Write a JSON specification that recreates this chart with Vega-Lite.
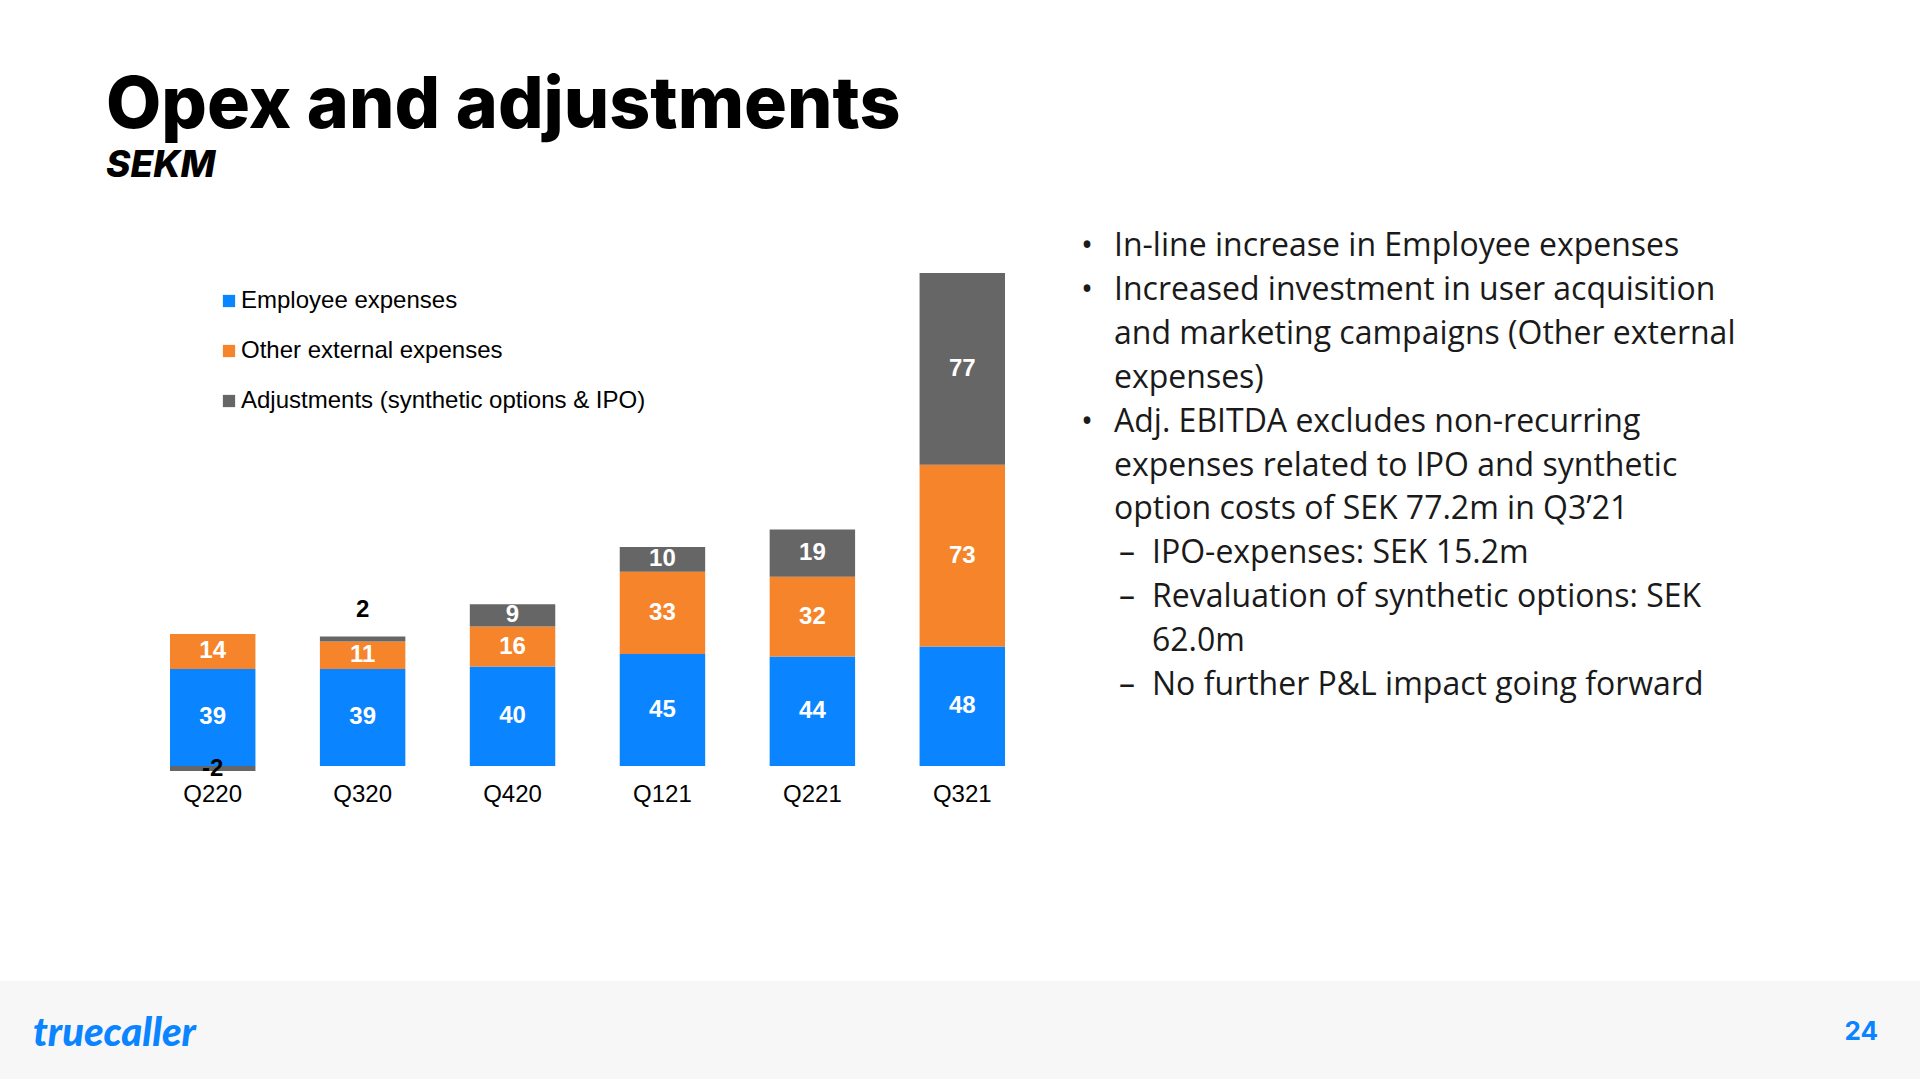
{
  "$schema": "https://vega.github.io/schema/vega-lite/v6.json",
  "background": "#ffffff",
  "padding": {"left": 0, "top": 71, "right": 0, "bottom": 0},
  "title": {
    "text": "Opex and adjustments",
    "subtitle": "SEKM",
    "anchor": "start",
    "dx": 106,
    "font": "Inter",
    "fontSize": 71.6,
    "fontWeight": 800,
    "color": "#000000",
    "subtitleFont": "Inter",
    "subtitleFontSize": 37,
    "subtitleFontWeight": 800,
    "subtitleFontStyle": "italic",
    "subtitleColor": "#000000",
    "subtitlePadding": 5,
    "offset": 46
  },
  "spacing": 175,
  "vconcat": [
    {
      "spacing": 43,
      "hconcat": [
        {
          "width": 94,
          "height": 508,
          "data": {"values": [{"label": ""}]},
          "mark": {"type": "text"},
          "encoding": {"text": {"field": "label", "type": "nominal"}}
        },
        {
          "width": 901,
          "height": 508,
          "data": {
            "values": [
              {"quarter": "Q220", "category": "Employee expenses", "rank": 1, "value": 39},
              {"quarter": "Q220", "category": "Other external expenses", "rank": 2, "value": 14},
              {"quarter": "Q220", "category": "Adjustments (synthetic options & IPO)", "rank": 3, "value": -2},
              {"quarter": "Q320", "category": "Employee expenses", "rank": 1, "value": 39},
              {"quarter": "Q320", "category": "Other external expenses", "rank": 2, "value": 11},
              {"quarter": "Q320", "category": "Adjustments (synthetic options & IPO)", "rank": 3, "value": 2},
              {"quarter": "Q420", "category": "Employee expenses", "rank": 1, "value": 40},
              {"quarter": "Q420", "category": "Other external expenses", "rank": 2, "value": 16},
              {"quarter": "Q420", "category": "Adjustments (synthetic options & IPO)", "rank": 3, "value": 9},
              {"quarter": "Q121", "category": "Employee expenses", "rank": 1, "value": 45},
              {"quarter": "Q121", "category": "Other external expenses", "rank": 2, "value": 33},
              {"quarter": "Q121", "category": "Adjustments (synthetic options & IPO)", "rank": 3, "value": 10},
              {"quarter": "Q221", "category": "Employee expenses", "rank": 1, "value": 44},
              {"quarter": "Q221", "category": "Other external expenses", "rank": 2, "value": 32},
              {"quarter": "Q221", "category": "Adjustments (synthetic options & IPO)", "rank": 3, "value": 19},
              {"quarter": "Q321", "category": "Employee expenses", "rank": 1, "value": 48},
              {"quarter": "Q321", "category": "Other external expenses", "rank": 2, "value": 73},
              {"quarter": "Q321", "category": "Adjustments (synthetic options & IPO)", "rank": 3, "value": 77}
            ]
          },
          "encoding": {
            "x": {
              "field": "quarter",
              "type": "nominal",
              "sort": null,
              "scale": {"paddingInner": 0.43, "paddingOuter": 0.22},
              "axis": {
                "title": null,
                "domain": false,
                "ticks": false,
                "grid": false,
                "labelAngle": 0,
                "labelFont": "Liberation Sans",
                "labelFontSize": 24,
                "labelColor": "#000000",
                "labelPadding": 6
              }
            }
          },
          "layer": [
            {
              "mark": {"type": "rule", "color": "#d9d9d9", "strokeWidth": 2},
              "encoding": {"y": {"datum": 0, "type": "quantitative"}}
            },
            {
              "mark": {"type": "bar"},
              "encoding": {
                "y": {
                  "field": "value",
                  "type": "quantitative",
                  "stack": "zero",
                  "scale": {"domain": [-4, 200], "nice": false},
                  "axis": {"title": null, "labels": false, "ticks": false, "domain": false, "grid": false, "minExtent": 0, "maxExtent": 0}
                },
                "color": {
                  "field": "category",
                  "type": "nominal",
                  "scale": {
                    "domain": ["Employee expenses", "Other external expenses", "Adjustments (synthetic options & IPO)"],
                    "range": ["#0a84ff", "#f5842a", "#666666"]
                  },
                  "legend": {
                    "orient": "none",
                    "legendX": 217,
                    "legendY": 21,
                    "title": null,
                    "symbolType": "square",
                    "symbolSize": 150,
                    "symbolStrokeWidth": 0,
                    "labelFont": "Liberation Sans",
                    "labelFontSize": 24,
                    "labelColor": "#000000",
                    "labelLimit": 700,
                    "labelOffset": 0,
                    "rowPadding": 26,
                    "padding": 0
                  }
                },
                "order": {"field": "rank", "type": "quantitative"}
              }
            },
            {
              "mark": {"type": "text", "font": "Liberation Sans", "fontSize": 24, "fontWeight": "bold", "baseline": "middle"},
              "encoding": {
                "y": {"field": "value", "type": "quantitative", "stack": "zero", "bandPosition": 0.5},
                "detail": {"field": "category"},
                "order": {"field": "rank", "type": "quantitative"},
                "text": {"condition": {"test": "datum.value > 0 && datum.value < 5", "value": ""}, "field": "value", "type": "nominal"},
                "color": {"condition": {"test": "datum.value < 0", "value": "#000000"}, "value": "#ffffff"}
              }
            },
            {
              "mark": {"type": "text", "font": "Liberation Sans", "fontSize": 24, "fontWeight": "bold", "baseline": "middle", "dy": -27},
              "encoding": {
                "y": {"field": "value", "type": "quantitative", "stack": "zero", "bandPosition": 1},
                "detail": {"field": "category"},
                "order": {"field": "rank", "type": "quantitative"},
                "text": {"condition": {"test": "datum.value > 0 && datum.value < 5", "field": "value", "type": "nominal"}, "value": ""},
                "color": {"value": "#000000"}
              }
            }
          ]
        },
        {
          "width": 38,
          "height": 508,
          "data": {
            "values": [
              {"line": 1, "level": "bullet", "marker": "•", "text": "In-line increase in Employee expenses"},
              {"line": 2, "level": "bullet", "marker": "•", "text": "Increased investment in user acquisition"},
              {"line": 3, "level": "bullet", "marker": "", "text": "and marketing campaigns (Other external"},
              {"line": 4, "level": "bullet", "marker": "", "text": "expenses)"},
              {"line": 5, "level": "bullet", "marker": "•", "text": "Adj. EBITDA excludes non-recurring"},
              {"line": 6, "level": "bullet", "marker": "", "text": "expenses related to IPO and synthetic"},
              {"line": 7, "level": "bullet", "marker": "", "text": "option costs of SEK 77.2m in Q3’21"},
              {"line": 8, "level": "dash", "marker": "–", "text": "IPO-expenses: SEK 15.2m"},
              {"line": 9, "level": "dash", "marker": "–", "text": "Revaluation of synthetic options: SEK"},
              {"line": 10, "level": "dash", "marker": "", "text": "62.0m"},
              {"line": 11, "level": "dash", "marker": "–", "text": "No further P&L impact going forward"}
            ]
          },
          "encoding": {
            "x": {"field": "level", "type": "nominal", "scale": {"type": "point", "domain": ["bullet", "dash"], "padding": 0}, "axis": null},
            "y": {"field": "line", "type": "quantitative", "scale": {"domain": [1.5, 13.07], "reverse": true, "nice": false, "zero": false}, "axis": null}
          },
          "layer": [
            {
              "mark": {"type": "text", "align": "left", "baseline": "middle", "font": "Open Sans", "fontSize": 32, "color": "#1a1a1a"},
              "encoding": {"text": {"field": "text"}}
            },
            {
              "mark": {"type": "text", "align": "left", "baseline": "middle", "font": "Open Sans", "fontSize": 32, "color": "#1a1a1a", "dx": -33},
              "encoding": {"text": {"field": "marker"}}
            }
          ]
        }
      ]
    },
    {
      "width": 1920,
      "height": 98,
      "view": {"fill": "#f7f7f7", "stroke": null},
      "data": {"values": [{"side": "left", "label": "truecaller"}, {"side": "right", "label": "24"}]},
      "encoding": {
        "x": {"field": "side", "type": "nominal", "scale": {"type": "point", "domain": ["left", "right"], "padding": 0.0178}, "axis": null},
        "text": {"field": "label"}
      },
      "layer": [
        {
          "transform": [{"filter": "datum.side == 'left'"}],
          "mark": {"type": "text", "align": "left", "baseline": "middle", "font": "Lato", "fontSize": 40, "fontWeight": 900, "fontStyle": "italic", "color": "#0a84ff", "dy": 4}
        },
        {
          "transform": [{"filter": "datum.side == 'right'"}],
          "mark": {"type": "text", "align": "right", "baseline": "middle", "font": "Inter", "fontSize": 26, "fontWeight": 700, "color": "#0a84ff", "dx": -9, "dy": 2}
        }
      ]
    }
  ],
  "config": {
    "view": {"stroke": null},
    "axis": {"grid": false}
  }
}
